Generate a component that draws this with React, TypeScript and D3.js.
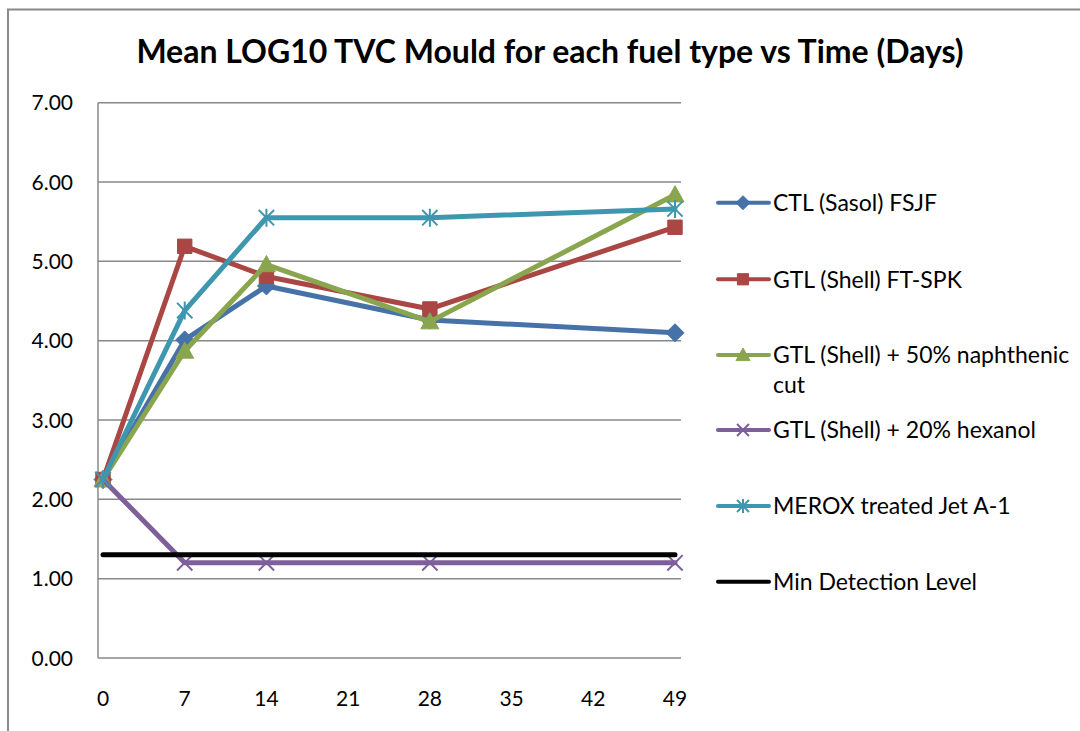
import React from 'react';
import * as d3 from 'd3';

// days sampled
const days = [0, 7, 14, 28, 49];

const ctlSasol = [2.25, 4.01, 4.69, 4.26, 4.1];
const gtlShell = [2.25, 5.19, 4.81, 4.4, 5.43];
const gtlNaphthenic = [2.25, 3.87, 4.96, 4.24, 5.84];
const gtlHexanol = [2.25, 1.2, 1.2, 1.2, 1.2];
const meroxJet = [2.25, 4.38, 5.55, 5.55, 5.66];
const minDetection = [1.3, 1.3, 1.3, 1.3, 1.3];

const seriesNames = [
    ['CTL (Sasol) FSJF'],
    ['GTL (Shell) FT-SPK'],
    ['GTL (Shell) + 50% naphthenic', 'cut'],
    ['GTL (Shell) + 20% hexanol'],
    ['MEROX treated Jet A-1'],
    ['Min Detection Level'],
];
const seriesColors = ['#4672A8', '#AA4643', '#89A54E', '#7D5F9B', '#3F96AF', '#000000'];
const seriesMarkers = ['diamond', 'square', 'triangle', 'x', 'star', 'none'];

const xTicks = [0, 7, 14, 21, 28, 35, 42, 49];
const yTicks = [0, 1, 2, 3, 4, 5, 6, 7];

const FONT = 'Lato, "Liberation Sans", sans-serif';

const markerPath = (type: string, cx: number, cy: number, r: number) => {
    const p = d3.path();
    if (type === 'diamond') {
        p.moveTo(cx, cy - r); p.lineTo(cx + r, cy); p.lineTo(cx, cy + r); p.lineTo(cx - r, cy); p.closePath();
    } else if (type === 'square') {
        const s = r * 0.8;
        p.rect(cx - s, cy - s, s * 2, s * 2);
    } else if (type === 'triangle') {
        p.moveTo(cx, cy - r); p.lineTo(cx + r, cy + r * 0.8); p.lineTo(cx - r, cy + r * 0.8); p.closePath();
    } else if (type === 'x') {
        const s = r * 0.85;
        p.moveTo(cx - s, cy - s); p.lineTo(cx + s, cy + s);
        p.moveTo(cx + s, cy - s); p.lineTo(cx - s, cy + s);
    } else if (type === 'star') {
        const s = r * 0.85;
        p.moveTo(cx - s, cy - s); p.lineTo(cx + s, cy + s);
        p.moveTo(cx + s, cy - s); p.lineTo(cx - s, cy + s);
        p.moveTo(cx, cy - r); p.lineTo(cx, cy + r);
    }
    return p.toString();
};

const Marker = ({ type, cx, cy, r, color }: { type: string; cx: number; cy: number; r: number; color: string }) => {
    if (type === 'none') return null;
    const open = type === 'x' || type === 'star';
    return (
        <path
            d={markerPath(type, cx, cy, r)}
            fill={open ? 'none' : color}
            stroke={color}
            strokeWidth={open ? 2 : 1}
        />
    );
};

const App = () => {
    const width = 1080;
    const height = 731;
    const plot = { left: 98, right: 681, top: 102.7, bottom: 658 };

    const x = d3.scaleLinear().domain([0, 49]).range([103, 675]);
    const y = d3.scaleLinear().domain([0, 7]).range([plot.bottom, plot.top]);

    const allSeries = [ctlSasol, gtlShell, gtlNaphthenic, gtlHexanol, meroxJet, minDetection];

    const line = d3.line<number>()
        .x((_, i) => x(days[i]))
        .y((d) => y(d));

    const legendRows = [202.7, 279.3, 355, 430, 506, 581.7];

    return (
        <div style={{ position: 'absolute', left: 0, top: 0 }}>
            <svg width={width} height={height} style={{ display: 'block', background: '#fff' }}>
                <rect x={8} y={9.5} width={1200} height={900} fill="#fff" stroke="#898989" strokeWidth={2} />

                <text x={550} y={63} textAnchor="middle" fontFamily={FONT} fontWeight={700} fontSize={32} fill="#000">
                    Mean LOG10 TVC Mould for each fuel type vs Time (Days)
                </text>

                {/* gridlines */}
                {yTicks.map((t) => (
                    <line key={'g' + t} x1={plot.left} x2={plot.right} y1={y(t)} y2={y(t)} stroke="#888" strokeWidth={1.5} />
                ))}
                <line x1={plot.left} x2={plot.left} y1={plot.top} y2={plot.bottom} stroke="#888" strokeWidth={1.5} />

                {/* y labels */}
                {yTicks.map((t) => (
                    <text key={'y' + t} x={73} y={y(t)} dy="0.36em" textAnchor="end" fontFamily={FONT} fontSize={21} fill="#000">
                        {d3.format('.2f')(t)}
                    </text>
                ))}
                {/* x labels */}
                {xTicks.map((t) => (
                    <text key={'x' + t} x={x(t)} y={706} textAnchor="middle" fontFamily={FONT} fontSize={21} fill="#000">
                        {t}
                    </text>
                ))}

                {/* series */}
                {allSeries.map((s, si) => (
                    <g key={'s' + si}>
                        <path d={line(s) || ''} fill="none" stroke={seriesColors[si]} strokeWidth={5}
                            strokeLinejoin="round" strokeLinecap="round" />
                        {s.map((v, i) => (
                            <Marker key={i} type={seriesMarkers[si]} cx={x(days[i])} cy={y(v)} r={9} color={seriesColors[si]} />
                        ))}
                    </g>
                ))}

                {/* legend */}
                {seriesNames.map((lines, si) => (
                    <g key={'l' + si}>
                        <line x1={718} x2={769} y1={legendRows[si]} y2={legendRows[si]} stroke={seriesColors[si]}
                            strokeWidth={4} strokeLinecap="round" />
                        <Marker type={seriesMarkers[si]} cx={743} cy={legendRows[si]} r={7} color={seriesColors[si]} />
                        {lines.map((ln, li) => (
                            <text key={li} x={773} y={legendRows[si] + li * 30} dy="0.36em" fontFamily={FONT} fontSize={23} fill="#000">
                                {ln}
                            </text>
                        ))}
                    </g>
                ))}
            </svg>
        </div>
    );
};

export default App;
